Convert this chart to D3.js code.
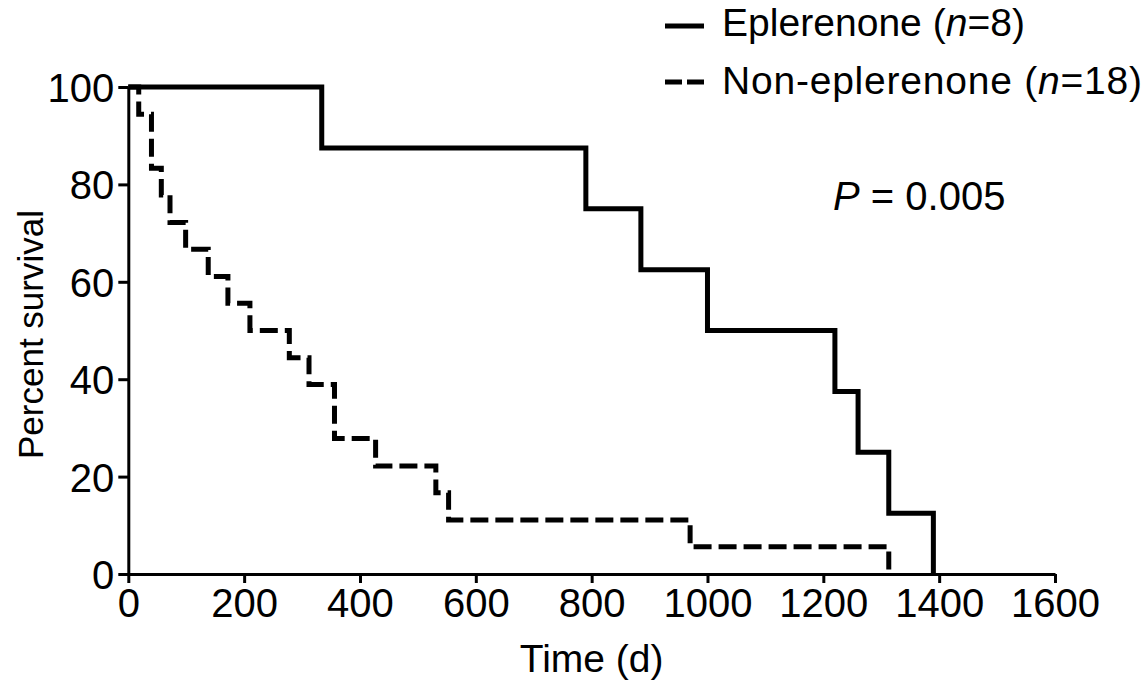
<!DOCTYPE html>
<html>
<head>
<meta charset="utf-8">
<script src="https://cdn.jsdelivr.net/npm/d3@7"></script>
<style>
  html, body { margin: 0; padding: 0; background: #fff; }
  svg { display: block; font-family: "Liberation Sans", Arial, Helvetica, sans-serif; }
</style>
</head>
<body>
<svg id="chart" width="1147" height="689"></svg>
<script>
// ---- data ----
const xTicks = [0, 200, 400, 600, 800, 1000, 1200, 1400, 1600];
const yTicks = [0, 20, 40, 60, 80, 100];
const eplTimes = [0, 334, 790, 885, 1000, 1220, 1260, 1313, 1390];
const eplSurv  = [100, 87.5, 75, 62.5, 50, 37.5, 25, 12.5, 0];
const nonTimes = [0, 18, 40, 57, 72, 99, 138, 172, 210, 278, 312, 356, 427, 531, 553, 970, 1313];
const nonSurv  = [100, 94.4, 83.3, 77.8, 72.2, 66.7, 61.1, 55.6, 50, 44.4, 38.9, 27.8, 22.2, 16.7, 11.1, 5.6, 0];
const seriesNames = ["Eplerenone", "Non-eplerenone"];
const seriesN = [8, 18];
const pValue = "0.005";

// ---- layout ----
const svg = d3.select("#chart");
const x = d3.scaleLinear().domain([0, 1600]).range([128.3, 1055]);
const y = d3.scaleLinear().domain([0, 100]).range([574, 87]);

function stepPoints(times, surv) {
  const pts = [[times[0], surv[0]]];
  for (let i = 1; i < times.length; i++) {
    pts.push([times[i], surv[i - 1]]);
    pts.push([times[i], surv[i]]);
  }
  return pts;
}
const line = d3.line().x(d => x(d[0])).y(d => y(d[1]));

// axes
const fmt = d3.format("d");
const xAxis = d3.axisBottom(x).tickValues(xTicks).tickFormat(fmt).tickSize(9).tickSizeOuter(0).tickPadding(4);
const yAxis = d3.axisLeft(y).tickValues(yTicks).tickFormat(fmt).tickSize(10).tickSizeOuter(0).tickPadding(4);

const gx = svg.append("g").attr("transform", `translate(0,${y(0)})`).call(xAxis);
const gy = svg.append("g").attr("transform", `translate(${x(0)},0)`).call(yAxis);
[gx, gy].forEach(g => {
  g.select(".domain").attr("stroke", "#000").attr("stroke-width", 3);
  g.selectAll(".tick line").attr("stroke", "#000").attr("stroke-width", 3);
  g.selectAll(".tick text").attr("fill", "#000").attr("font-size", 40)
    .attr("font-family", "Liberation Sans, Arial, sans-serif");
});
gx.selectAll(".tick text").attr("dy", "0.74em");
gy.selectAll(".tick text").attr("dy", "0.36em");

// axis titles
svg.append("text").attr("x", (x(0) + x(1600)) / 2).attr("y", 672)
  .attr("text-anchor", "middle").attr("font-size", 39).text("Time (d)");
svg.append("text")
  .attr("transform", `translate(43,${(y(0) + y(100)) / 2 + 4}) rotate(-90)`)
  .attr("text-anchor", "middle").attr("font-size", 35).text("Percent survival");

// survival curves
svg.append("path").datum(stepPoints(nonTimes, nonSurv))
  .attr("d", line).attr("fill", "none").attr("stroke", "#000")
  .attr("stroke-width", 5).attr("stroke-dasharray", "18,7");
svg.append("path").datum(stepPoints(eplTimes, eplSurv))
  .attr("d", line).attr("fill", "none").attr("stroke", "#000")
  .attr("stroke-width", 5);

// legend
const legend = svg.append("g");
const rows = [
  { y: 26, base: 36, dash: null, len: 303 },
  { y: 82, base: 94, dash: "17,5", len: 420 }
];
rows.forEach((r, i) => {
  legend.append("line").attr("x1", 665).attr("x2", 704).attr("y1", r.y).attr("y2", r.y)
    .attr("stroke", "#000").attr("stroke-width", 5)
    .attr("stroke-dasharray", r.dash);
  const t = legend.append("text").attr("x", 722).attr("y", r.base).attr("font-size", 39)
    .attr("textLength", r.len).attr("lengthAdjust", "spacing");
  t.append("tspan").text(seriesNames[i] + " (");
  t.append("tspan").attr("font-style", "italic").text("n");
  t.append("tspan").text("=" + seriesN[i] + ")");
});

// P value
const pt = svg.append("text").attr("x", 833).attr("y", 210).attr("font-size", 40);
pt.append("tspan").attr("font-style", "italic").text("P");
pt.append("tspan").text(" = " + pValue);
</script>
</body>
</html>
